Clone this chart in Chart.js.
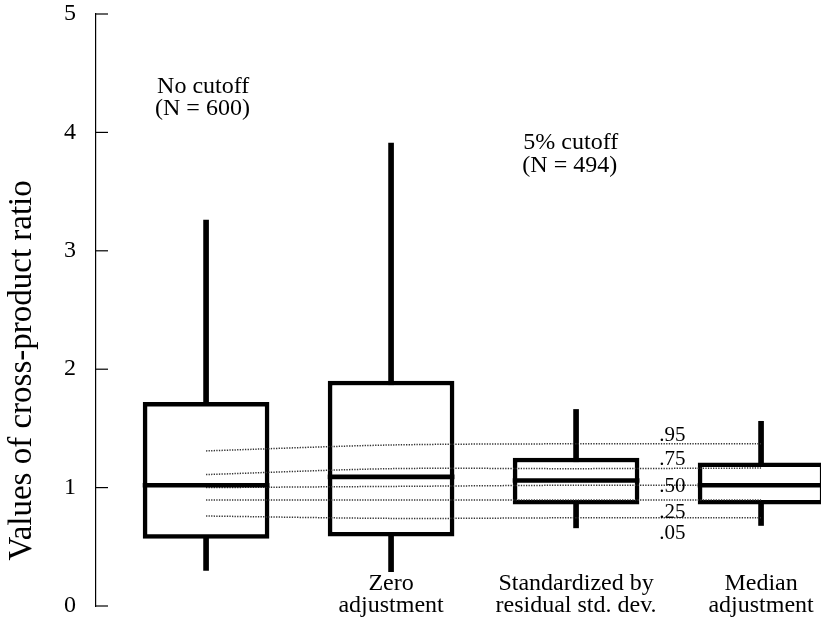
<!DOCTYPE html>
<html>
<head>
<meta charset="utf-8">
<script src="https://cdn.jsdelivr.net/npm/chart.js@4.4.0/dist/chart.umd.min.js"></script>
<style>
  body { margin: 0; background: #fff; }
  #wrap { width: 821px; height: 629px; }
</style>
</head>
<body>
<div id="wrap"><canvas id="boxChart" width="821" height="629"></canvas></div>
<script>
// box positions (1..4) and their labels
const positions = [1, 2, 3, 4];
const categoryLabels = [[], ['Zero', 'adjustment'], ['Standardized by', 'residual std. dev.'], ['Median', 'adjustment']];

// box plot values
const whiskerLow = [0.30, 0.29, 0.66, 0.68];
const whiskerHigh = [3.26, 3.91, 1.66, 1.56];
const q1 = [0.57, 0.59, 0.86, 0.86];
const q3 = [1.72, 1.90, 1.25, 1.21];
const median = [1.02, 1.09, 1.06, 1.02];

// dotted reference quantile curves
const quantileNames = ['.95', '.75', '.50', '.25', '.05'];
const p95 = [1.31, 1.36, 1.37, 1.37];
const p75 = [1.11, 1.16, 1.16, 1.165];
const p50 = [1.00, 1.01, 1.02, 1.02];
const p25 = [0.895, 0.895, 0.895, 0.895];
const p05 = [0.76, 0.74, 0.745, 0.745];
const quantileLabelY = [1.44, 1.24, 1.01, 0.79, 0.61];

const yTicks = [0, 1, 2, 3, 4, 5];
const yTitle = 'Values of cross-product ratio';
const serif = "'Liberation Serif', 'DejaVu Serif', serif";

const pts = arr => arr.map((v, i) => ({ x: positions[i], y: v }));

function quantileLine(values) {
    return {
        type: 'line',
        data: pts(values),
        borderColor: '#333',
        borderWidth: 1.5,
        borderDash: [1.3, 1.3],
        pointRadius: 0,
        tension: 0.3,
        fill: false,
        order: 1
    };
}

// ============================
// Plugin : ticks, textes
// ============================
const decorPlugin = {
    id: 'decor',
    afterDraw(chart) {
        const c = chart.ctx;
        const xs = chart.scales.x;
        const ys = chart.scales.y;
        const left = chart.chartArea.left;
        c.save();
        // tick marks pointing inside
        c.strokeStyle = '#000';
        c.lineWidth = 1.2;
        yTicks.forEach(t => {
            const py = ys.getPixelForValue(t);
            c.beginPath();
            c.moveTo(left, py);
            c.lineTo(left + 12, py);
            c.stroke();
        });

        c.fillStyle = '#000';
        c.textBaseline = 'middle';
        c.textAlign = 'center';

        // axis title, a bit below the middle as in the original
        c.save();
        c.font = '33px ' + serif;
        c.translate(22, ys.getPixelForValue(1.99));
        c.rotate(-Math.PI / 2);
        c.fillText(yTitle, 0, 0);
        c.restore();

        // category labels under the boxes
        c.font = '24px ' + serif;
        categoryLabels.forEach((lines, i) => {
            const px = xs.getPixelForValue(positions[i]);
            lines.forEach((s, j) => c.fillText(s, px, ys.getPixelForValue(0.19) + j * 22));
        });

        // quantile names
        c.font = '21px ' + serif;
        quantileNames.forEach((s, i) => {
            c.fillText(s, xs.getPixelForValue(3.52), ys.getPixelForValue(quantileLabelY[i]));
        });

        // group annotations
        c.font = '24px ' + serif;
        c.textAlign = 'left';
        let ax = xs.getPixelForValue(0.735);
        c.fillText('No cutoff', ax, ys.getPixelForValue(4.39));
        c.fillText('(N = 600)', ax - 2, ys.getPixelForValue(4.20));
        ax = xs.getPixelForValue(2.715);
        c.fillText('5% cutoff', ax, ys.getPixelForValue(3.91));
        c.fillText('(N = 494)', ax - 1, ys.getPixelForValue(3.72));
        c.restore();
    }
};

const ctx = document.getElementById('boxChart').getContext('2d');
new Chart(ctx, {
    data: {
        datasets: [
            {
                type: 'bar',
                label: 'median',
                data: median.map((m, i) => ({ x: positions[i], y: [m - 0.017, m + 0.017] })),
                backgroundColor: '#000',
                borderWidth: 0,
                barThickness: 126,
                grouped: false,
                order: 0
            },
            quantileLine(p95),
            quantileLine(p75),
            quantileLine(p50),
            quantileLine(p25),
            quantileLine(p05),
            {
                type: 'bar',
                label: 'box',
                data: q1.map((v, i) => ({ x: positions[i], y: [v, q3[i]] })),
                backgroundColor: '#fff',
                borderColor: '#000',
                borderWidth: 4.5,
                borderSkipped: false,
                barThickness: 126,
                grouped: false,
                order: 2
            },
            {
                type: 'bar',
                label: 'whisker',
                data: whiskerLow.map((v, i) => ({ x: positions[i], y: [v, whiskerHigh[i]] })),
                backgroundColor: '#000',
                borderWidth: 0,
                barThickness: 5,
                grouped: false,
                order: 3
            }
        ]
    },
    options: {
        responsive: false,
        animation: false,
        layout: { padding: { top: 14, bottom: 23, left: 0, right: 0 } },
        plugins: {
            legend: { display: false },
            tooltip: { enabled: false }
        },
        scales: {
            x: {
                type: 'linear',
                min: 0.405,
                max: 4.324,
                offset: false,
                display: false
            },
            y: {
                min: 0,
                max: 5,
                afterFit(scale) {
                    scale.width = 96;
                    scale.paddingTop = 0;
                    scale.paddingBottom = 0;
                },
                grid: { display: false },
                border: { display: true, color: '#000', width: 1.2 },
                ticks: {
                    stepSize: 1,
                    color: '#000',
                    padding: 12,
                    font: { family: serif, size: 24 }
                }
            }
        }
    },
    plugins: [decorPlugin]
});
</script>
</body>
</html>
